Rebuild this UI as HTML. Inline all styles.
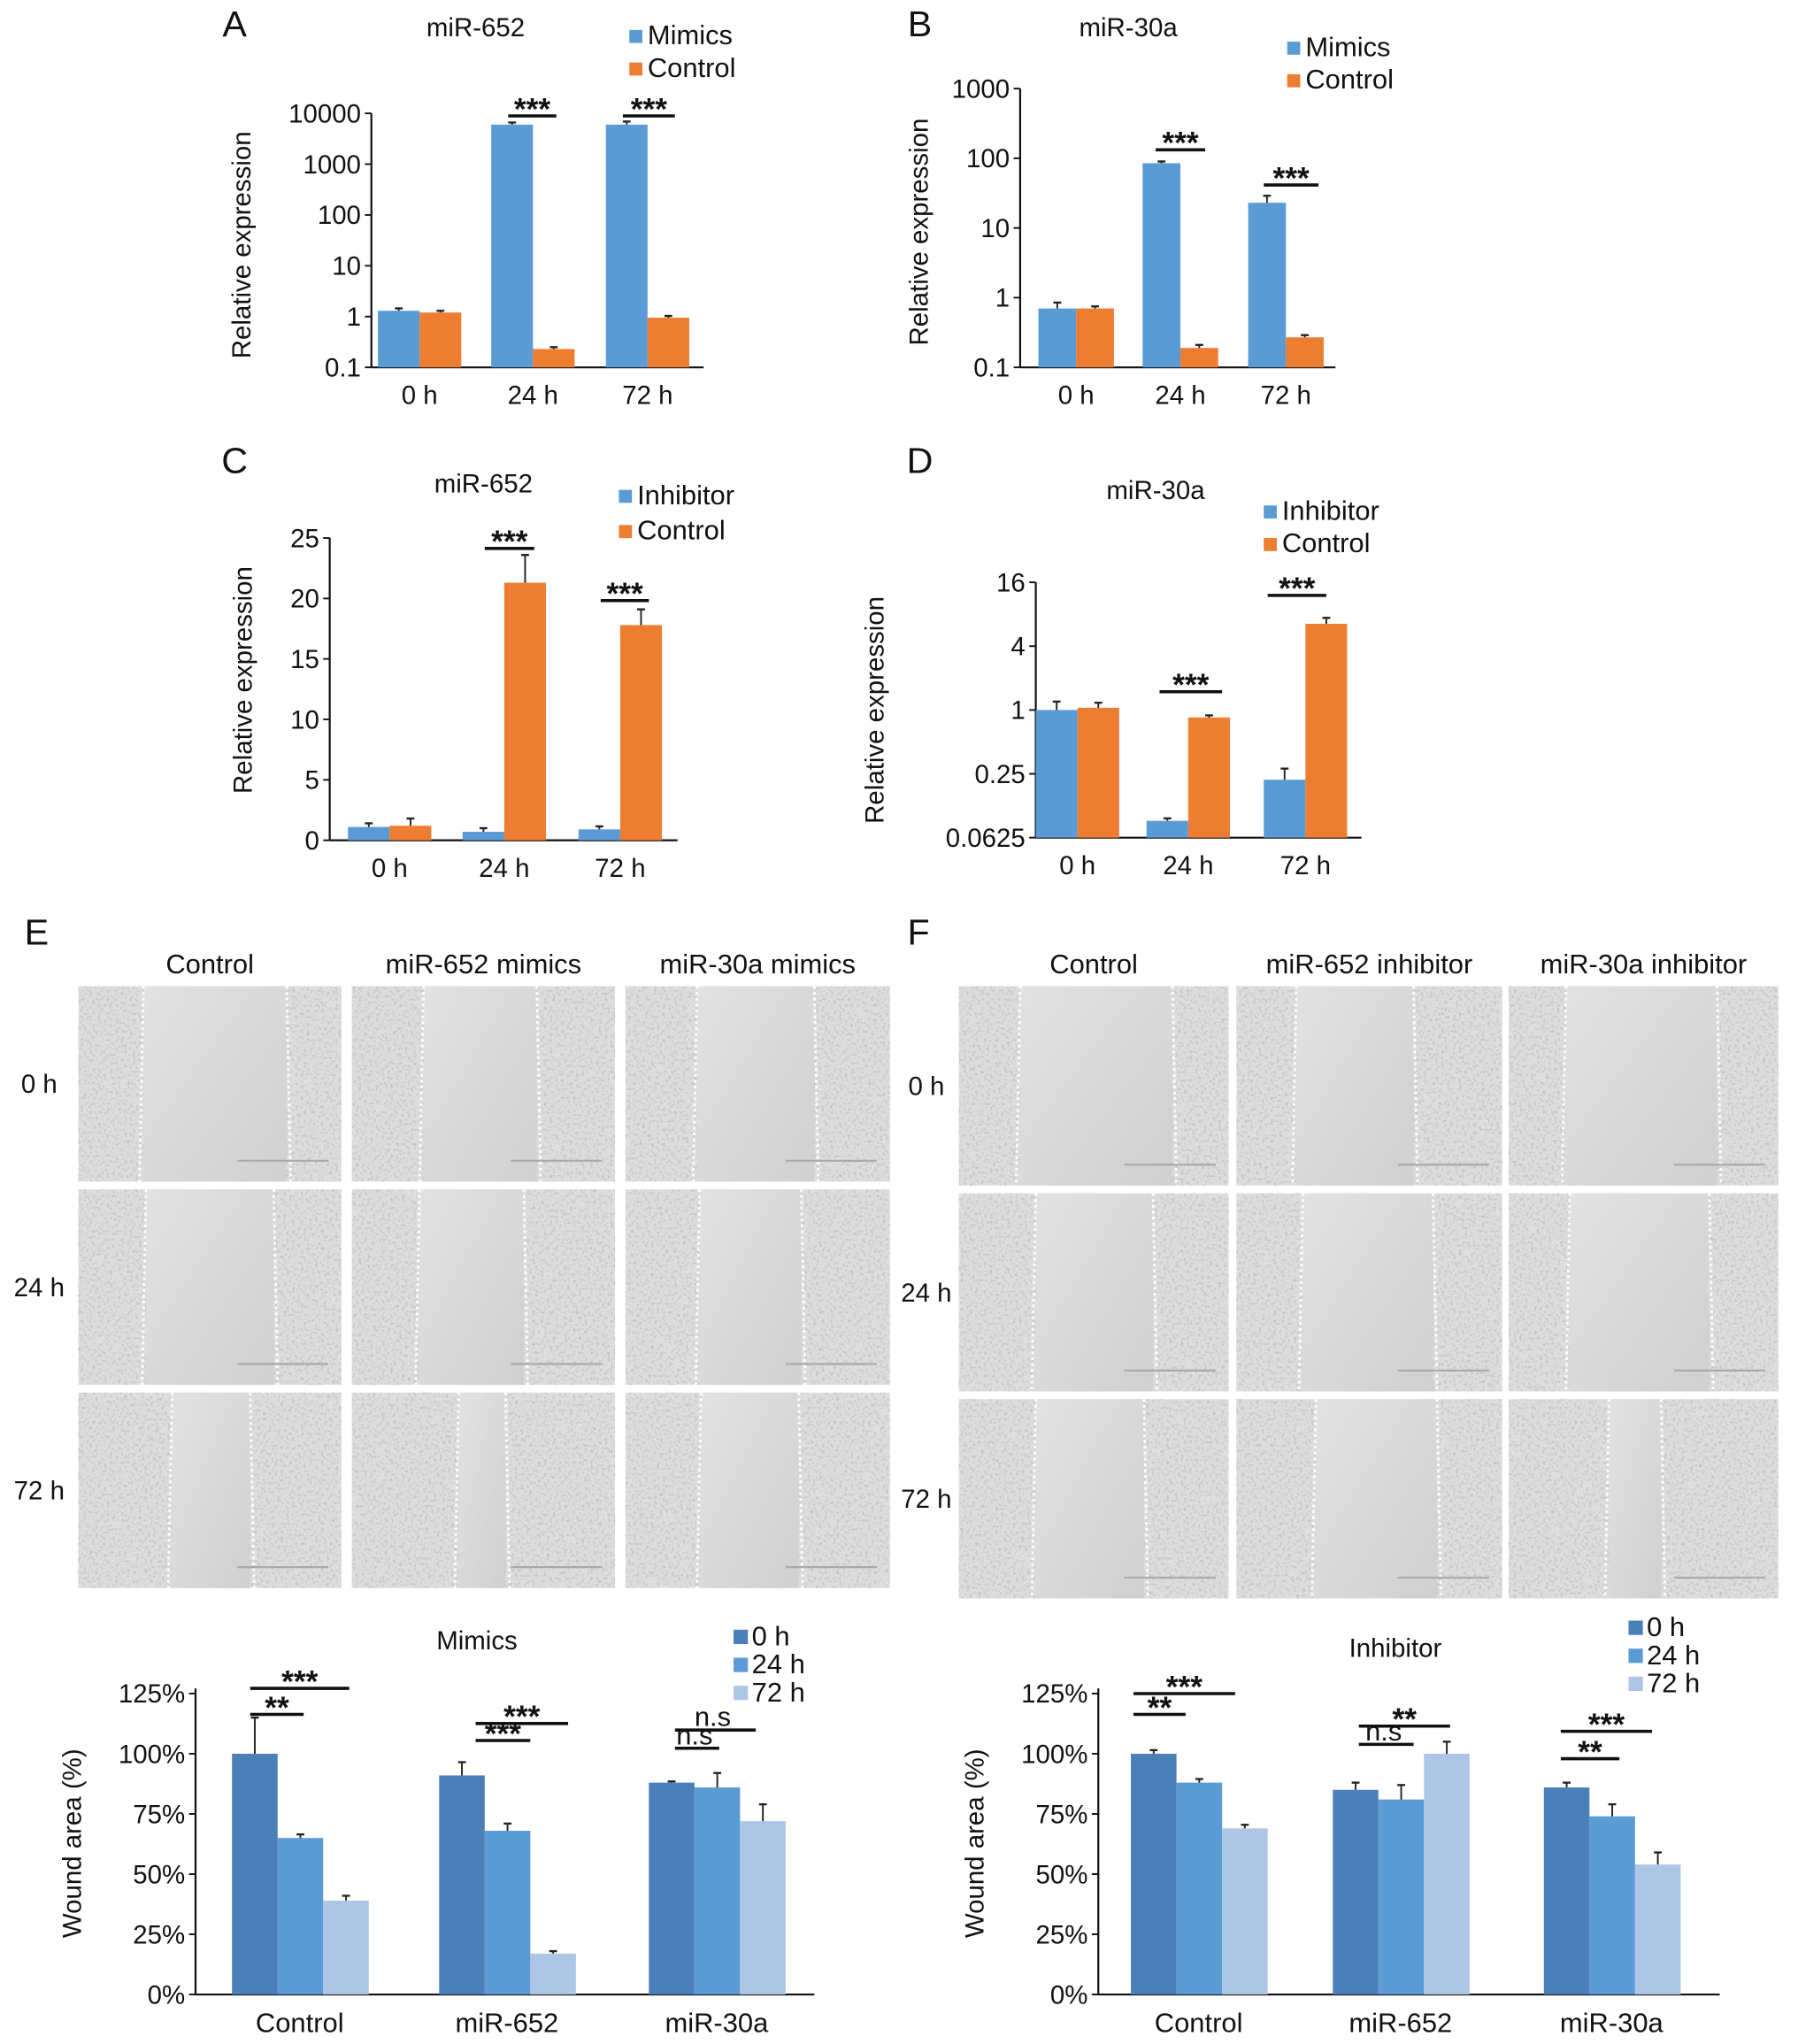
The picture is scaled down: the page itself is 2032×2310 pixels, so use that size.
<!DOCTYPE html>
<html><head><meta charset="utf-8"><style>
html,body{margin:0;padding:0;background:#fff}
svg{display:block}
text{font-family:"Liberation Sans",Arial,sans-serif;fill:#111}
</style></head><body>
<svg id="fig" xmlns="http://www.w3.org/2000/svg" width="2032" height="2310" viewBox="0 0 1380 1569">
<defs>
<filter id="cells" x="0" y="0" width="1" height="1">
<feTurbulence type="fractalNoise" baseFrequency="0.45" numOctaves="2" seed="3"/>
<feColorMatrix type="matrix" values="0 0 0 0 0.4  0 0 0 0 0.4  0 0 0 0 0.4  0 0 0 -3 1.55"/>
<feComposite in2="SourceGraphic" operator="in"/>
</filter>
<linearGradient id="gapg" x1="0" y1="0" x2="1" y2="1"><stop offset="0" stop-color="#e2e2e2"/><stop offset="1" stop-color="#d0d0d0"/></linearGradient>
</defs>
<g id="root"></g>
</svg>
<script>
// ---------- data ----------
const qCats=["0 h","24 h","72 h"];
const aMimics=[1.3,6000,6000], aMimErr=[0.15,600,900];
const aControl=[1.2,0.23,0.95], aCtrlErr=[0.1,0.02,0.08];
const aTicks=[10000,1000,100,10,1,0.1];
const bMimics=[0.7,85,23], bMimErr=[0.15,5,6];
const bControl=[0.7,0.19,0.27], bCtrlErr=[0.05,0.02,0.02];
const bTicks=[1000,100,10,1,0.1];
const cInhib=[1.1,0.7,0.9], cInhErr=[0.3,0.3,0.25];
const cControl=[1.2,21.3,17.8], cCtrlErr=[0.6,2.3,1.3];
const cTicks=[0,5,10,15,20,25];
const dInhib=[1.0,0.09,0.22], dInhErr=[0.2,0.005,0.06];
const dControl=[1.05,0.85,6.5], dCtrlErr=[0.12,0.04,0.9];
const dTicks=[16,4,1,0.25,0.0625];
const dTickLabels=["16","4","1","0.25","0.0625"];
const woundCats=["Control","miR-652","miR-30a"];
const woundSeries=["0 h","24 h","72 h"];
const mim0=[100,91,88], mim24=[65,68,86], mim72=[39,17,72];
const mimE0=[15,5.5,0.5], mimE24=[1.5,3,6], mimE72=[2,1,7];
const inh0=[100,85,86], inh24=[88,81,74], inh72=[69,100,54];
const inhE0=[1.5,3,2], inhE24=[1.5,6,5], inhE72=[1.5,5,5];
const pctTicks=[0,25,50,75,100,125];

const NS="http://www.w3.org/2000/svg";
const root=document.getElementById('root');
function el(tag,attrs,parent,txt){const e=document.createElementNS(NS,tag);for(const k in attrs)e.setAttribute(k,attrs[k]);if(txt!==undefined)e.textContent=txt;(parent||root).appendChild(e);return e;}
function grp(name){const g=el('g',{});return g;}
function txt(g,x,y,s,size,anchor,name,extra){const t=el('text',Object.assign({x:x,y:y,'font-size':size,'text-anchor':anchor||'middle'},extra||{}),g,s);return t;}
const BLUE="#5b9bd5",ORANGE="#ed7d31";

function errBar(g,x,y,yTop){
  const l=el('line',{x1:x,x2:x,y1:y,y2:yTop,stroke:'#222','stroke-width':1.3},g);
  
  el('line',{x1:x-3,x2:x+3,y1:yTop,y2:yTop,stroke:'#222','stroke-width':1.6},g);
}
function sig(g,x1,x2,y,label){
  const l=el('line',{x1:x1,x2:x2,y1:y,y2:y,stroke:'#111','stroke-width':2.4},g);
  
  if(label==='n.s') txt(g,(x1+x2)/2-2,y-3,label,21,'middle','significance-label');
  else txt(g,(x1+x2)/2,y+3,label,24,'middle','significance-label',{'font-weight':'bold'});
}

function qpcr(p){
  const g=grp(p.name);
  const yOf=p.scale;
  txt(g,p.letterX,p.letterY,p.letter,28,'middle','panel-letter');
  txt(g,p.titleX,p.titleY,p.title,20,'middle','chart-title');
  const ya=el('line',{x1:p.ax,x2:p.ax,y1:p.yTop,y2:p.yBot,stroke:'#111','stroke-width':1.5},g);
  
  const xa=el('line',{x1:p.ax,x2:p.axEnd,y1:p.yBot,y2:p.yBot,stroke:'#111','stroke-width':1.5},g);
  
  p.ticks.forEach((t,i)=>{const y=yOf(t);el('line',{x1:p.ax-5,x2:p.ax,y1:y,y2:y,stroke:'#111','stroke-width':1.3},g);
    txt(g,p.ax-8,y+7,p.tickLabels?p.tickLabels[i]:String(t),20,'end','y-tick-label');});
  txt(g,p.ylx,p.yly,'Relative expression',20,'middle','y-axis-title',{transform:`rotate(-90 ${p.ylx} ${p.yly})`});
  qCats.forEach((c,i)=>{
    const x0=p.groupX[i];
    [[p.s1,p.e1,BLUE],[p.s2,p.e2,ORANGE]].forEach((s,j)=>{
      const x=x0+j*p.bw, y=yOf(s[0][i]);
      const r=el('rect',{x:x,y:y,width:p.bw,height:p.yBot-y,fill:s[2]},g);
      
      errBar(g,x+p.bw/2,y,yOf(s[0][i]+s[1][i]));
    });
    txt(g,x0+p.bw,p.yBot+28,c,20,'middle','x-tick-label');
  });
  const lg=grp('legend');g.appendChild(lg);
  [[p.n1,BLUE],[p.n2,ORANGE]].forEach((l,i)=>{const y=p.legY+i*p.legDy;
    const r=el('rect',{x:p.legX,y:y-10,width:10,height:10,fill:l[1]},lg);
    txt(lg,p.legX+14,y+1,l[0],21,'start','legend-entry');});
  p.sigs.forEach(s=>sig(g,s[0],s[1],s[2],'***'));
}
function logScale(top,bot,vTop,vBot){const a=Math.log(vTop),b=Math.log(vBot);return v=>top+(a-Math.log(v))/(a-b)*(bot-top);}
function linScale(top,bot,vTop,vBot){return v=>bot-(v-vBot)/(vTop-vBot)*(bot-top);}

qpcr({name:'panel-a',letter:'A',letterX:180,letterY:28,title:'miR-652',titleX:365,titleY:28,ax:285,axEnd:540,yTop:87,yBot:282,
  scale:logScale(87,282,10000,0.1),ticks:aTicks,ylx:192,yly:188,groupX:[290,377,465],bw:32,s1:aMimics,e1:aMimErr,s2:aControl,e2:aCtrlErr,
  n1:'Mimics',n2:'Control',legX:483,legY:33,legDy:25,sigs:[[390,427,89],[478,518,89]]});
qpcr({name:'panel-b',letter:'B',letterX:706,letterY:28,title:'miR-30a',titleX:866,titleY:28,ax:783,axEnd:1025,yTop:68,yBot:282,
  scale:logScale(68,282,1000,0.1),ticks:bTicks,ylx:712,yly:178,groupX:[797,877,958],bw:29,s1:bMimics,e1:bMimErr,s2:bControl,e2:bCtrlErr,
  n1:'Mimics',n2:'Control',legX:988,legY:42,legDy:25,sigs:[[887,925,115],[970,1012,142]]});
qpcr({name:'panel-c',letter:'C',letterX:180,letterY:363,title:'miR-652',titleX:371,titleY:378,ax:253,axEnd:520,yTop:413,yBot:645,
  scale:linScale(413,645,25,0),ticks:cTicks,ylx:193,yly:522,groupX:[267,355,444],bw:32,s1:cInhib,e1:cInhErr,s2:cControl,e2:cCtrlErr,
  n1:'Inhibitor',n2:'Control',legX:475,legY:386,legDy:27,sigs:[[372,410,421],[461,498,461]]});
qpcr({name:'panel-d',letter:'D',letterX:706,letterY:363,title:'miR-30a',titleX:887,titleY:383,ax:795,axEnd:1045,yTop:447,yBot:643,
  scale:logScale(447,643,16,0.0625),ticks:dTicks,tickLabels:dTickLabels,ylx:678,yly:545,groupX:[795,880,970],bw:32,s1:dInhib,e1:dInhErr,s2:dControl,e2:dCtrlErr,
  n1:'Inhibitor',n2:'Control',legX:970,legY:398,legDy:25,sigs:[[890,938,531],[973,1018,457]]});

// ---------- micrographs ----------
function micro(name,x,y,w,h,gL,gR){
  const g=grp(name);
  el('rect',{x:x,y:y,width:w,height:h,fill:'#dedede'},g);
  el('rect',{x:x,y:y,width:w,height:h,fill:'#fff',filter:'url(#cells)',opacity:0.55},g);
  el('rect',{x:gL,y:y,width:gR-gL,height:h,fill:'url(#gapg)'},g);
  [gL,gR].forEach(gx=>el('line',{x1:gx,x2:gx+(gx===gL?-3:3),y1:y,y2:y+h,stroke:'#fff','stroke-width':2,'stroke-dasharray':'2 2.5'},g));
  el('line',{x1:x+w-80,x2:x+w-10,y1:y+h-16,y2:y+h-16,stroke:'#aaa','stroke-width':1.5},g);
}
const eCols=[[60,202],[270,202],[480,203]], eRows=[[757,150],[913,150],[1069,150]];
const eGaps=[[[110,220],[325,412],[535,625]],[[112,210],[322,402],[537,615]],[[132,192],[352,388],[538,613]]];
const fCols=[[736,207],[949,204],[1158,207]], fRows=[[757,153],[916,152],[1074,153]];
const fGaps=[[[783,900],[995,1085],[1202,1318]],[[795,885],[1000,1100],[1205,1312]],[[795,878],[1010,1103],[1235,1275]]];
const eHead=["Control","miR-652 mimics","miR-30a mimics"], fHead=["Control","miR-652 inhibitor","miR-30a inhibitor"];
function microPanel(letter,lx,cols,rows,gaps,heads,rlx){
  const g=grp('panel-'+letter.toLowerCase()+'-images');
  txt(g,lx,725,letter,28,'middle','panel-letter');
  cols.forEach((c,i)=>txt(g,c[0]+c[1]/2,747,heads[i],21,'middle','column-header'));
  rows.forEach((r,j)=>{txt(g,rlx,r[0]+r[1]/2+7,qCats[j],20,'middle','row-label');
    cols.forEach((c,i)=>{micro('micrograph',c[0],r[0],c[1],r[1],gaps[j][i][0],gaps[j][i][1]);});});
}
microPanel('E',28,eCols,eRows,eGaps,eHead,30);
microPanel('F',705,fCols,fRows,fGaps,fHead,711);

// ---------- wound charts ----------
const WC=["#4a7fb8","#5b9bd5","#aec6e6"];
function wound(p){
  const g=grp(p.name);
  const yOf=linScale(1300,1531,125,0);
  txt(g,p.titleX,p.titleY,p.title,20,'middle','chart-title');
  const ya=el('line',{x1:p.ax,x2:p.ax,y1:1296,y2:1531,stroke:'#111','stroke-width':1.5},g);
  const xa=el('line',{x1:p.ax,x2:p.axEnd,y1:1531,y2:1531,stroke:'#111','stroke-width':1.5},g);
  pctTicks.forEach(t=>{const y=yOf(t);el('line',{x1:p.ax-5,x2:p.ax,y1:y,y2:y,stroke:'#111','stroke-width':1.3},g);
    txt(g,p.ax-8,y+7,t+'%',20,'end','y-tick-label');});
  txt(g,p.ylx,1415,'Wound area (%)',20,'middle','y-axis-title',{transform:`rotate(-90 ${p.ylx} 1415)`});
  woundCats.forEach((c,i)=>{
    p.series.forEach((s,j)=>{const x=p.groupX[i]+j*35,y=yOf(s[0][i]);
      const r=el('rect',{x:x,y:y,width:35,height:1531-y,fill:WC[j]},g);
      
      errBar(g,x+17.5,y,yOf(s[0][i]+s[1][i]));});
    txt(g,p.groupX[i]+52,1560,c,21,'middle','x-tick-label');
  });
  const lg=grp('legend');g.appendChild(lg);
  woundSeries.forEach((s,j)=>{const y=p.legY+j*21.5;
    const r=el('rect',{x:p.legX,y:y-11,width:11,height:11,fill:WC[j]},lg);
    txt(lg,p.legX+14,y+1,s,21,'start','legend-entry');});
  p.sigs.forEach(s=>sig(g,s[0],s[1],s[2],s[3]));
}
wound({name:'panel-e-chart',title:'Mimics',titleX:366,titleY:1266,ax:150,axEnd:625,ylx:62,groupX:[178,337,498],
  series:[[mim0,mimE0],[mim24,mimE24],[mim72,mimE72]],legX:563,legY:1262,
  sigs:[[192,233,1316,'**'],[192,268,1296,'***'],[365,407,1336,'***'],[365,436,1323,'***'],[518,552,1342,'n.s'],[518,580,1328,'n.s']]});
wound({name:'panel-f-chart',title:'Inhibitor',titleX:1071,titleY:1272,ax:843,axEnd:1320,ylx:755,groupX:[868,1023,1185],
  series:[[inh0,inhE0],[inh24,inhE24],[inh72,inhE72]],legX:1250,legY:1255,
  sigs:[[870,910,1316,'**'],[870,948,1300,'***'],[1043,1085,1339,'n.s'],[1043,1113,1325,'**'],[1198,1243,1350,'**'],[1198,1268,1329,'***']]});
</script>
</body></html>
